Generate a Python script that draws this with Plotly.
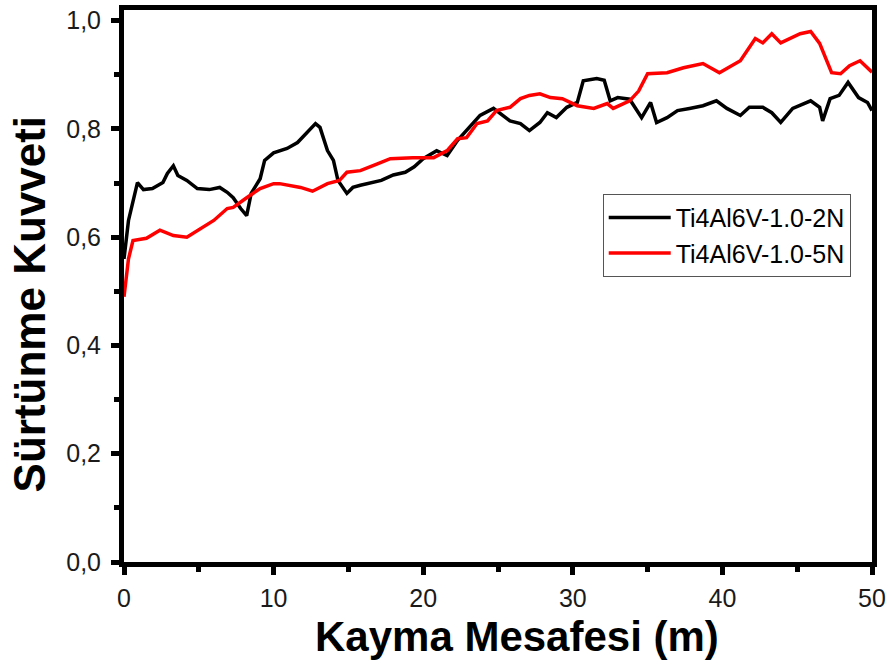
import plotly.graph_objects as go

# Ti4Al6V-1.0-2N (black)
black_x = [0, 0.3, 0.9, 1.3, 1.9, 2.6, 2.9, 3.3, 3.6, 4.2, 4.9, 5.7, 6.4, 6.9, 7.3, 7.8, 8.2, 8.5,
           9.1, 9.4, 10.0, 10.9, 11.6, 12.2, 12.8, 13.1, 13.6, 14.0, 14.3, 14.9, 15.3, 15.8, 16.5,
           17.2, 18.0, 18.8, 19.4, 20.0, 20.9, 21.6, 22.3, 23.1, 23.8, 24.7, 25.1, 25.8, 26.5,
           27.1, 27.8, 28.3, 28.9, 29.6, 30.3, 30.7, 31.6, 32.1, 32.5, 33.0, 33.8, 34.6, 35.2,
           35.6, 36.3, 37.0, 37.8, 38.7, 39.6, 40.3, 41.2, 41.8, 42.7, 43.3, 43.9, 44.7, 45.9,
           46.5, 46.7, 47.2, 47.8, 48.4, 49.1, 49.7, 50.0]
black_y = [0.56, 0.631, 0.701, 0.688, 0.69, 0.701, 0.718, 0.732, 0.714, 0.705, 0.69, 0.688,
           0.692, 0.683, 0.673, 0.653, 0.64, 0.681, 0.708, 0.742, 0.756, 0.764, 0.775, 0.793,
           0.81, 0.803, 0.76, 0.742, 0.705, 0.681, 0.692, 0.696, 0.70, 0.705, 0.715, 0.72, 0.73,
           0.745, 0.76, 0.751, 0.779, 0.803, 0.825, 0.838, 0.83, 0.815, 0.81, 0.797, 0.812, 0.83,
           0.821, 0.84, 0.849, 0.889, 0.893, 0.89, 0.852, 0.858, 0.855, 0.821, 0.849, 0.812,
           0.821, 0.834, 0.838, 0.843, 0.852, 0.838, 0.825, 0.84, 0.84, 0.83, 0.812, 0.838,
           0.852, 0.84, 0.815, 0.856, 0.862, 0.886, 0.858, 0.849, 0.834]

# Ti4Al6V-1.0-5N (red)
red_x = [0, 0.3, 0.6, 1.5, 2.4, 3.3, 4.2, 5.1, 6.0, 6.9, 7.3, 8.2, 9.1, 10.0, 10.4, 11.8, 12.6,
         13.6, 14.4, 14.9, 15.8, 16.9, 17.8, 19.3, 20.7, 21.6, 22.3, 22.9, 23.6, 24.3, 24.9,
         25.8, 26.5, 27.1, 27.8, 28.5, 29.3, 30.3, 31.4, 32.3, 32.7, 33.8, 34.4, 35.0, 36.3,
         37.4, 38.7, 39.8, 41.2, 42.2, 42.7, 43.3, 43.9, 45.2, 45.9, 46.5, 47.3, 47.9, 48.5,
         49.2, 49.9, 50.0]
red_y = [0.49, 0.56, 0.594, 0.598, 0.613, 0.603, 0.6, 0.616, 0.631, 0.653, 0.655, 0.673, 0.69,
         0.699, 0.699, 0.692, 0.685, 0.699, 0.705, 0.72, 0.723, 0.735, 0.745, 0.747, 0.747,
         0.76, 0.782, 0.784, 0.81, 0.815, 0.834, 0.84, 0.856, 0.862, 0.865, 0.858, 0.856,
         0.843, 0.838, 0.847, 0.838, 0.852, 0.87, 0.902, 0.904, 0.913, 0.921, 0.904, 0.926,
         0.967, 0.959, 0.976, 0.959, 0.976, 0.98, 0.958, 0.904, 0.902, 0.917, 0.926, 0.908,
         0.905]

x_ticks = [0, 10, 20, 30, 40, 50]
y_ticks = [0.0, 0.2, 0.4, 0.6, 0.8, 1.0]
y_ticklabels = ['0,0', '0,2', '0,4', '0,6', '0,8', '1,0']

FONT = 'Liberation Sans, Arial'

fig = go.Figure()

fig.add_trace(go.Scatter(
    x=black_x, y=black_y, mode='lines', name='Ti4Al6V-1.0-2N',
    line=dict(color='black', width=3.5)
))
fig.add_trace(go.Scatter(
    x=red_x, y=red_y, mode='lines', name='Ti4Al6V-1.0-5N',
    line=dict(color='#ff0000', width=3.5)
))

axis_common = dict(
    showline=True, linecolor='black', linewidth=5, mirror=True,
    ticks='outside', ticklen=8, tickwidth=5, tickcolor='black',
    showgrid=False, zeroline=False, automargin=False,
    tickfont=dict(family=FONT, size=25, color='#1a1a1a'),
)

fig.update_xaxes(
    range=[0, 50], tickvals=x_ticks, ticklabelstandoff=2,
    minor=dict(ticks='outside', ticklen=5, tickwidth=5, tickcolor='black', dtick=5),
    **axis_common
)
fig.update_yaxes(
    range=[0, 1.0198], tickvals=y_ticks, ticktext=y_ticklabels, ticklabelstandoff=5,
    minor=dict(ticks='outside', ticklen=5, tickwidth=5, tickcolor='black', dtick=0.1),
    **axis_common
)

# axis titles as annotations so they sit where the original has them
fig.add_annotation(
    text='<b>Kayma Mesafesi (m)</b>', xref='paper', yref='paper',
    x=0.525, y=-0.135, xanchor='center', yanchor='middle', showarrow=False,
    font=dict(family=FONT, size=42, color='black')
)
fig.add_annotation(
    text='<b>Sürtünme Kuvveti</b>', xref='paper', yref='paper', textangle=-90,
    x=-0.126, y=0.468, xanchor='center', yanchor='middle', showarrow=False,
    font=dict(family=FONT, size=44, color='black')
)

# top border of the frame
fig.add_shape(
    type='line', xref='paper', yref='paper', x0=-0.004, x1=1.004, y0=1.0045, y1=1.0045,
    line=dict(color='black', width=5)
)

fig.update_layout(
    width=892, height=668,
    margin=dict(l=124, r=20, t=10, b=106),
    paper_bgcolor='white', plot_bgcolor='white',
    showlegend=True,
    legend=dict(
        x=0.64, y=0.667, xanchor='left', yanchor='top',
        bgcolor='white', bordercolor='#555', borderwidth=1,
        font=dict(family=FONT, size=25, color='black'),
        tracegroupgap=0, itemwidth=62
    ),
)

# drop the default page margin so the figure sits at the window's corner
fig.write_html("out.html", config={'displayModeBar': False},
               post_script="document.body.style.margin = '0';")
